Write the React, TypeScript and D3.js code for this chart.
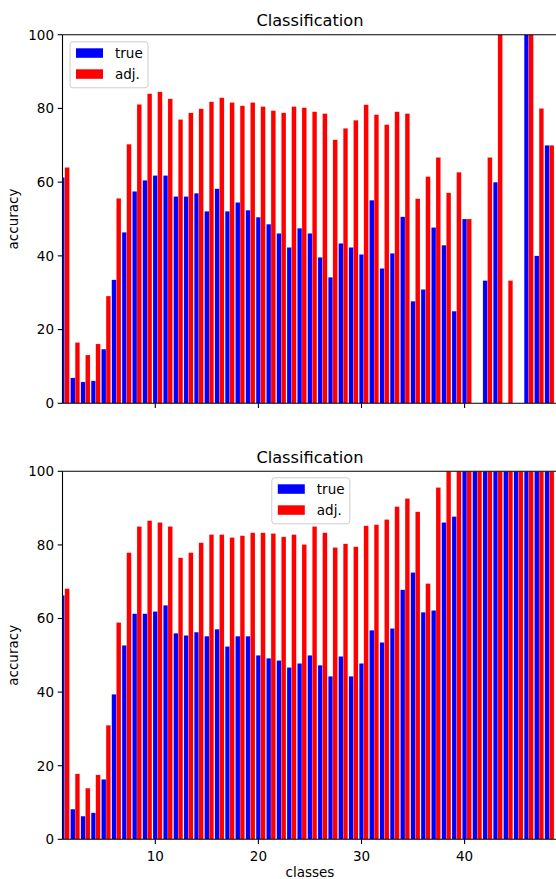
import * as d3 from 'd3';

// class index 1..48
const classes = [
  1, 2, 3, 4, 5, 6, 7, 8, 9, 10, 11, 12, 13, 14, 15, 16, 17, 18, 19, 20, 21, 22, 23, 24,
  25, 26, 27, 28, 29, 30, 31, 32, 33, 34, 35, 36, 37, 38, 39, 40, 41, 42, 43, 44, 45, 46, 47, 48,
];

const topTrue = [
  61.3, 6.9, 5.8, 6.1, 14.7, 33.5, 46.4, 57.5, 60.5, 61.8,
  61.8, 56.1, 56.1, 57.0, 52.1, 58.2, 52.1, 54.5, 52.4, 50.5,
  48.6, 46.1, 42.3, 47.5, 46.1, 39.6, 34.2, 43.4, 42.3, 40.4,
  55.1, 36.6, 40.7, 50.6, 27.7, 30.9, 47.7, 42.9, 25.0, 50.0,
  0, 33.3, 60.0, 0, 0, 100, 40.0, 70.0,
];
const topAdj = [
  64.0, 16.5, 13.1, 16.1, 29.1, 55.6, 70.3, 81.1, 84.0, 84.5,
  82.6, 77.0, 78.8, 79.9, 81.8, 82.9, 81.6, 80.7, 81.6, 80.5,
  79.4, 78.8, 80.5, 80.2, 79.1, 78.6, 71.5, 74.6, 76.8, 81.0,
  78.3, 75.6, 79.1, 78.6, 55.5, 61.5, 66.7, 57.1, 62.7, 50.0,
  0, 66.7, 100, 33.3, 0, 100, 80.0, 70.0,
];
const bottomTrue = [
  66.3, 8.2, 6.3, 7.2, 16.3, 39.4, 52.7, 61.3, 61.3, 61.9,
  63.6, 56.0, 55.4, 56.3, 55.2, 57.1, 52.4, 55.2, 55.2, 50.0,
  49.2, 48.6, 46.7, 47.8, 50.0, 47.3, 44.3, 49.7, 44.3, 47.8,
  56.8, 53.5, 57.3, 67.8, 72.5, 61.7, 62.2, 86.1, 87.7, 100,
  100, 100, 100, 100, 100, 100, 100, 100,
];
const bottomAdj = [
  68.1, 17.8, 13.9, 17.5, 31.0, 58.9, 77.9, 85.0, 86.6, 86.1,
  85.0, 76.5, 77.9, 80.6, 82.8, 82.8, 82.0, 82.5, 83.3, 83.3,
  83.1, 82.2, 82.8, 80.1, 85.0, 83.3, 79.3, 80.3, 79.5, 85.2,
  85.5, 86.9, 90.4, 92.6, 89.0, 69.5, 95.6, 100, 100, 100,
  100, 100, 100, 100, 100, 100, 100, 100,
];

const yTicks = [0, 20, 40, 60, 80, 100];
const xTicks = [10, 20, 30, 40];
const seriesNames = ['true', 'adj.'];
const seriesColors = ['#0000ff', '#ff0000'];

const W = 556;
const H = 879;
const left = 62.5;
const right = 557.4;
const barW = 0.45;
const font = 'DejaVu Sans, sans-serif';

const x = d3.scaleLinear().domain([1, 49]).range([left, right]);

type PanelProps = {
  id: string;
  top: number;
  bottom: number;
  trueVals: number[];
  adjVals: number[];
  showXLabels: boolean;
  legendX: number;
  legendY: number;
};

const Panel = ({ id, top, bottom, trueVals, adjVals, showXLabels, legendX, legendY }: PanelProps) => {
  const y = d3.scaleLinear().domain([0, 100]).range([bottom, top]);
  const bw = x(1 + barW) - x(1);
  const cx = (left + right) / 2;
  return (
    <g>
      <defs>
        <clipPath id={id}>
          <rect x={left} y={top} width={right - left} height={bottom - top} />
        </clipPath>
      </defs>
      <g clipPath={`url(#${id})`}>
        {classes.map((c, i) => (
          <g key={c}>
            <rect x={x(c - barW / 2)} y={y(trueVals[i])} width={bw} height={y(0) - y(trueVals[i])}
              fill={seriesColors[0]} stroke="#fff" strokeWidth={0.3} strokeOpacity={0.6} />
            <rect x={x(c + barW / 2)} y={y(adjVals[i])} width={bw} height={y(0) - y(adjVals[i])}
              fill={seriesColors[1]} stroke="#fff" strokeWidth={0.3} strokeOpacity={0.6} />
          </g>
        ))}
      </g>
      {/* spines: the right one falls outside the picture */}
      <line x1={left} x2={left} y1={top} y2={bottom} stroke="#000" strokeWidth={1.1} />
      <line x1={left} x2={W + 2} y1={top} y2={top} stroke="#000" strokeWidth={1.1} />
      <line x1={left} x2={W + 2} y1={bottom} y2={bottom} stroke="#000" strokeWidth={1.1} />
      {yTicks.map((t) => (
        <g key={t}>
          <line x1={left - 4.8} x2={left} y1={y(t)} y2={y(t)} stroke="#000" strokeWidth={1.1} />
          <text x={left - 8.5} y={y(t)} dy="0.36em" textAnchor="end" fontSize={13.5} fontFamily={font} fill="#000">
            {t}
          </text>
        </g>
      ))}
      {xTicks.map((t) => (
        <g key={t}>
          <line x1={x(t)} x2={x(t)} y1={bottom} y2={bottom + 4.8} stroke="#000" strokeWidth={1.1} />
          {showXLabels && (
            <text x={x(t)} y={bottom + 21.5} textAnchor="middle" fontSize={13.5} fontFamily={font} fill="#000">
              {t}
            </text>
          )}
        </g>
      ))}
      <text x={cx} y={top - 8.5} textAnchor="middle" fontSize={16.2} fontFamily={font} fill="#000">
        Classification
      </text>
      <text transform={`translate(18,${(top + bottom) / 2}) rotate(-90)`} textAnchor="middle"
        fontSize={13.5} fontFamily={font} fill="#000">
        accuracy
      </text>
      {showXLabels && (
        <text x={cx} y={bottom + 38} textAnchor="middle" fontSize={13.5} fontFamily={font} fill="#000">
          classes
        </text>
      )}
      <g transform={`translate(${legendX},${legendY})`}>
        <rect x={0} y={0} width={78} height={46} rx={3} fill="#fff" fillOpacity={0.8} stroke="#cccccc" strokeWidth={1} />
        {seriesNames.map((s, i) => (
          <g key={s}>
            <rect x={6} y={6.5 + i * 21} width={27} height={9.5} fill={seriesColors[i]} />
            <text x={45} y={11.3 + i * 21} dy="0.35em" fontSize={13.5} fontFamily={font} fill="#000">
              {s}
            </text>
          </g>
        ))}
      </g>
    </g>
  );
};

export default function App() {
  return (
    <svg width={W} height={H} style={{ position: 'absolute', left: 0, top: 0, background: '#fff' }}>
      <rect width={W} height={H} fill="#fff" />
      <Panel id="clipTop" top={34.7} bottom={403.3} trueVals={topTrue} adjVals={topAdj}
        showXLabels={false} legendX={70} legendY={41.8} />
      <Panel id="clipBottom" top={471.3} bottom={839.3} trueVals={bottomTrue} adjVals={bottomAdj}
        showXLabels={true} legendX={271.8} legendY={477.8} />
    </svg>
  );
}
